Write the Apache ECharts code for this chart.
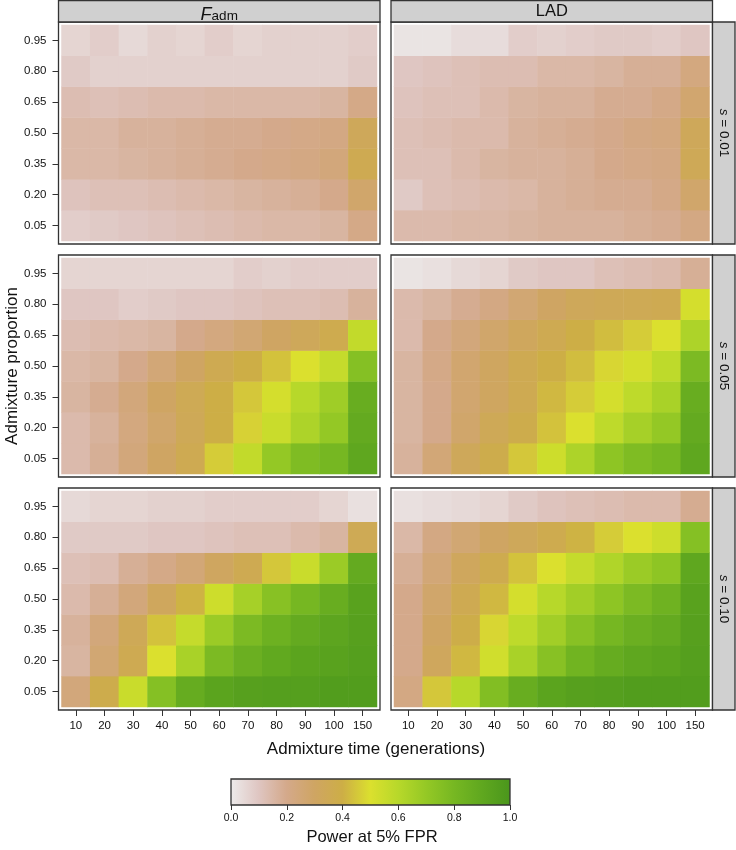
<!DOCTYPE html>
<html><head><meta charset="utf-8">
<script src="https://cdn.jsdelivr.net/npm/echarts@6/dist/echarts.min.js"></script>
<style>html,body{margin:0;padding:0;background:#fff}#c{width:736px;height:850px}</style>
</head><body><div id="c"></div>
<script>
// ---- data ----
const xCats = ['10','20','30','40','50','60','70','80','90','100','150'];
const yCats = ['0.05','0.20','0.35','0.50','0.65','0.80','0.95'];
const methods = ['Fadm','LAD'];
const sLabels = ['0.01','0.05','0.10'];
const colorbarTicks = [0, 0.2, 0.4, 0.6, 0.8, 1.0];

// rows ordered as yCats (0.05 bottom ... 0.95 top)
const fadm_s001 = [
 [0.08,0.09,0.10,0.11,0.12,0.13,0.14,0.15,0.15,0.16,0.21],
 [0.11,0.12,0.12,0.13,0.14,0.15,0.16,0.17,0.18,0.20,0.28],
 [0.15,0.15,0.16,0.17,0.18,0.19,0.20,0.21,0.22,0.24,0.36],
 [0.15,0.15,0.17,0.17,0.18,0.19,0.19,0.20,0.21,0.22,0.33],
 [0.13,0.12,0.13,0.14,0.14,0.15,0.15,0.15,0.15,0.16,0.21],
 [0.09,0.07,0.07,0.07,0.07,0.07,0.07,0.07,0.07,0.07,0.09],
 [0.06,0.08,0.05,0.07,0.06,0.08,0.06,0.07,0.07,0.07,0.08]
];
const lad_s001 = [
 [0.14,0.14,0.15,0.15,0.16,0.17,0.17,0.17,0.18,0.19,0.22],
 [0.09,0.12,0.13,0.14,0.15,0.17,0.18,0.19,0.19,0.21,0.28],
 [0.12,0.12,0.14,0.16,0.17,0.17,0.18,0.20,0.21,0.22,0.34],
 [0.12,0.13,0.14,0.14,0.17,0.18,0.19,0.20,0.22,0.23,0.33],
 [0.11,0.12,0.12,0.14,0.16,0.17,0.17,0.19,0.19,0.21,0.27],
 [0.10,0.11,0.12,0.13,0.13,0.15,0.15,0.16,0.18,0.18,0.23],
 [0.02,0.02,0.04,0.04,0.08,0.07,0.08,0.09,0.09,0.08,0.10]
];
const fadm_s005 = [
 [0.14,0.18,0.24,0.30,0.36,0.46,0.57,0.70,0.77,0.80,0.90],
 [0.14,0.17,0.23,0.28,0.34,0.40,0.47,0.55,0.63,0.70,0.88],
 [0.16,0.19,0.24,0.30,0.35,0.40,0.45,0.52,0.60,0.67,0.86],
 [0.15,0.16,0.20,0.25,0.30,0.36,0.40,0.44,0.50,0.56,0.75],
 [0.13,0.14,0.15,0.16,0.20,0.23,0.26,0.30,0.33,0.37,0.57],
 [0.10,0.10,0.08,0.09,0.10,0.10,0.11,0.12,0.12,0.13,0.17],
 [0.06,0.06,0.06,0.06,0.06,0.06,0.08,0.07,0.08,0.08,0.08]
];
const lad_s005 = [
 [0.17,0.25,0.33,0.38,0.45,0.54,0.63,0.72,0.77,0.80,0.90],
 [0.16,0.20,0.28,0.34,0.38,0.44,0.50,0.58,0.65,0.70,0.88],
 [0.16,0.20,0.27,0.31,0.36,0.42,0.46,0.52,0.58,0.64,0.86],
 [0.16,0.21,0.27,0.31,0.36,0.40,0.43,0.48,0.52,0.58,0.78],
 [0.14,0.20,0.24,0.28,0.32,0.36,0.40,0.43,0.46,0.50,0.63],
 [0.14,0.16,0.19,0.22,0.26,0.30,0.33,0.34,0.35,0.36,0.52],
 [0.02,0.03,0.05,0.06,0.09,0.10,0.10,0.12,0.13,0.14,0.18]
];
const fadm_s010 = [
 [0.24,0.38,0.55,0.75,0.87,0.92,0.94,0.95,0.95,0.96,0.96],
 [0.16,0.26,0.36,0.50,0.64,0.78,0.85,0.89,0.92,0.93,0.95],
 [0.17,0.24,0.34,0.44,0.56,0.68,0.78,0.84,0.88,0.91,0.94],
 [0.14,0.18,0.24,0.32,0.41,0.54,0.65,0.74,0.80,0.86,0.93],
 [0.12,0.13,0.18,0.21,0.25,0.31,0.36,0.45,0.55,0.68,0.88],
 [0.09,0.09,0.09,0.10,0.10,0.11,0.12,0.12,0.14,0.16,0.35],
 [0.05,0.06,0.06,0.07,0.07,0.08,0.08,0.08,0.08,0.06,0.03]
];
const lad_s010 = [
 [0.22,0.45,0.60,0.76,0.86,0.92,0.94,0.95,0.96,0.96,0.96],
 [0.20,0.32,0.42,0.53,0.64,0.74,0.82,0.87,0.90,0.92,0.95],
 [0.20,0.30,0.39,0.48,0.58,0.66,0.74,0.80,0.85,0.88,0.94],
 [0.20,0.28,0.36,0.42,0.52,0.60,0.66,0.72,0.78,0.83,0.93],
 [0.18,0.25,0.32,0.37,0.44,0.50,0.56,0.62,0.68,0.72,0.90],
 [0.15,0.22,0.26,0.30,0.33,0.37,0.41,0.46,0.50,0.54,0.75],
 [0.03,0.04,0.05,0.06,0.09,0.11,0.12,0.13,0.14,0.14,0.19]
];
const panels = [[fadm_s001, lad_s001],[fadm_s005, lad_s005],[fadm_s010, lad_s010]];

// colour ramp (evenly spaced 0..1)
const ramp = ['#EDEBEB','#DFC6C2','#D4A98B','#CFA563','#CDAE46','#DBE02E','#B7D82A','#94C825','#76B722','#5FA71F','#4A961C'];

// ---- layout ----
const colX = [[58.5,380],[391,712.5]];
const rowY = [[22,244],[255,477],[488,710]];
const inset = 3;
const frameColor = '#333';
const stripFill = '#D0D0D0';
const textColor = '#111';
const font = '"Liberation Sans", Arial, sans-serif';

const grids=[], xAxes=[], yAxes=[], series=[], graphics=[];
let gi = 0;
for (let r=0;r<3;r++){
  for (let c=0;c<2;c++){
    const [l,rr]=colX[c], [t,b]=rowY[r];
    grids.push({left:l+inset, top:t+inset, width:rr-l-2*inset, height:b-t-2*inset});
    const bottom = r===2, left = c===0;
    xAxes.push({type:'category', gridIndex:gi, data:xCats, offset:inset,
      axisLine:{show:false},
      axisTick:{show:bottom, alignWithLabel:true, length:6, lineStyle:{color:frameColor}},
      axisLabel:{show:bottom, fontSize:11.5, color:textColor, margin:10, fontFamily:font, interval:0},
      splitLine:{show:false}});
    yAxes.push({type:'category', gridIndex:gi, data:yCats, offset:inset,
      axisLine:{show:false},
      axisTick:{show:left, alignWithLabel:true, length:6, lineStyle:{color:frameColor}},
      axisLabel:{show:left, fontSize:11.5, color:textColor, margin:12, fontFamily:font},
      splitLine:{show:false}});
    const d=[]; const m=panels[r][c];
    for (let yi=0;yi<yCats.length;yi++) for (let xi=0;xi<xCats.length;xi++) d.push([xi,yi,m[yi][xi]]);
    series.push({type:'heatmap', xAxisIndex:gi, yAxisIndex:gi, data:d, itemStyle:{borderWidth:0}, emphasis:{disabled:true}, silent:true});
    graphics.push({type:'rect', shape:{x:l, y:t, width:rr-l, height:b-t}, style:{fill:'none', stroke:frameColor, lineWidth:1.3}, z:10});
    gi++;
  }
  // right strip
  const [t,b]=rowY[r];
  graphics.push({type:'rect', shape:{x:712.5, y:t, width:22.5, height:b-t}, style:{fill:stripFill, stroke:frameColor, lineWidth:1.3}, z:10});
  graphics.push({type:'text', x:724, y:(t+b)/2, rotation:-Math.PI/2, z:11,
    style:{text:'{i|s} = '+sLabels[r], rich:{i:{fontStyle:'italic', fontSize:13.5, fontFamily:font, fill:textColor}}, fontSize:13.5, fontFamily:font, fill:textColor, align:'center', verticalAlign:'middle'}});
}
// top strips
for (let c=0;c<2;c++){
  const [l,rr]=colX[c];
  graphics.push({type:'rect', shape:{x:l, y:0.5, width:rr-l, height:21.5}, style:{fill:stripFill, stroke:frameColor, lineWidth:1.3}, z:10});
}
graphics.push({type:'text', x:(colX[0][0]+colX[0][1])/2, y:12.5, z:11,
  style:{text:'{f|F}{s|adm}', rich:{f:{fontStyle:'italic', fontSize:18, fontFamily:font, fill:textColor, verticalAlign:'bottom'}, s:{fontSize:13.5, fontFamily:font, fill:textColor, padding:[8,0,0,0], verticalAlign:'bottom'}}, align:'center', verticalAlign:'middle'}});
graphics.push({type:'text', x:(colX[1][0]+colX[1][1])/2, y:11.5, z:11,
  style:{text:'LAD', fontSize:16.5, fontFamily:font, fill:textColor, align:'center', verticalAlign:'middle'}});
// axis titles
graphics.push({type:'text', x:12, y:366, rotation:Math.PI/2, z:11,
  style:{text:'Admixture proportion', fontSize:17, fontFamily:font, fill:textColor, align:'center', verticalAlign:'middle'}});
graphics.push({type:'text', x:376, y:749, z:11,
  style:{text:'Admixture time (generations)', fontSize:17, fontFamily:font, fill:textColor, align:'center', verticalAlign:'middle'}});
graphics.push({type:'text', x:372, y:837, z:11,
  style:{text:'Power at 5% FPR', fontSize:16.5, fontFamily:font, fill:textColor, align:'center', verticalAlign:'middle'}});

// colourbar
const cb = {left:231, top:779, width:279, height:26};
grids.push(cb);
xAxes.push({type:'value', gridIndex:gi, min:0, max:1, interval:0.2,
  axisLine:{show:false}, splitLine:{show:false},
  axisTick:{show:true, length:5, lineStyle:{color:frameColor}},
  axisLabel:{fontSize:10.5, color:textColor, margin:8, fontFamily:font, formatter:v=>v.toFixed(1)}});
yAxes.push({type:'value', gridIndex:gi, show:false, min:0, max:1});
graphics.push({type:'rect', shape:{x:cb.left, y:cb.top, width:cb.width, height:cb.height}, z:5,
  style:{fill:new echarts.graphic.LinearGradient(0,0,1,0, ramp.map((col,i)=>({offset:i/(ramp.length-1), color:col}))), stroke:frameColor, lineWidth:1.3}});

const chart = echarts.init(document.getElementById('c'), null, {renderer:'canvas'});
chart.setOption({
  backgroundColor:'#fff',
  animation:false,
  grid:grids, xAxis:xAxes, yAxis:yAxes,
  visualMap:{type:'continuous', show:false, min:0, max:1, seriesIndex:[0,1,2,3,4,5], inRange:{color:ramp}},
  series:series,
  graphic:graphics
});
</script></body></html>
